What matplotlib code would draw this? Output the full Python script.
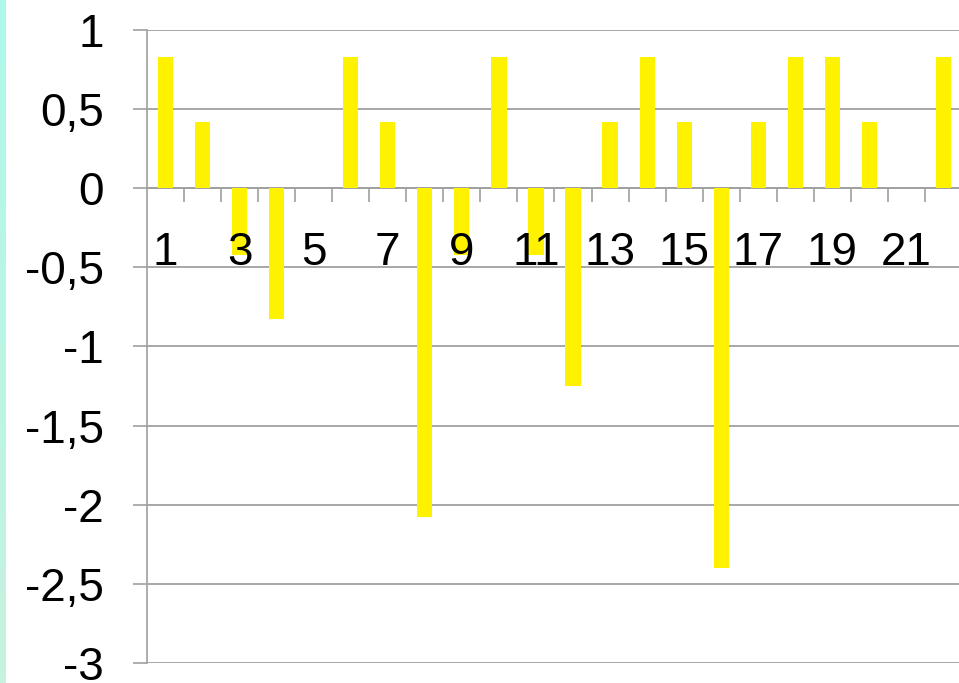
import numpy as np
import matplotlib.pyplot as plt
from matplotlib.ticker import FixedLocator, FuncFormatter

plt.rcParams['font.family'] = ['Liberation Sans', 'DejaVu Sans']

# data
categories = list(range(1, 23))
values = [0.83, 0.42, -0.42, -0.83, 0, 0.83, 0.42, -2.08, -0.42, 0.83, -0.42,
          -1.25, 0.42, 0.83, 0.42, -2.4, 0.42, 0.83, 0.83, 0.42, 0, 0.83]
x_labels = [str(c) for c in categories if c % 2 == 1]
y_ticks = [-3, -2.5, -2, -1.5, -1, -0.5, 0, 0.5, 1]

W, H = 959, 683
fig = plt.figure(figsize=(W / 100, H / 100), dpi=100)
fig.patch.set_facecolor('white')

# teal strip on the left edge
strip = fig.add_axes([0, 0, 6 / W, 1])
grad = np.linspace(0, 1, 100).reshape(-1, 1)
from matplotlib.colors import LinearSegmentedColormap
cm = LinearSegmentedColormap.from_list('s', ['#c6f2de', '#aef8ea'])
strip.imshow(grad, aspect='auto', cmap=cm, origin='lower')
strip.axis('off')

ax = fig.add_axes([147 / W, 20 / H, 815 / W, 633.3 / H])
grey = '#a0a0a0'

ax.bar(categories, values, width=0.41, color='#fff200', zorder=3)
ax.set_xlim(0.5, 22.5)
ax.set_ylim(-3, 1)

ax.set_yticks(y_ticks)
ax.yaxis.set_major_formatter(FuncFormatter(lambda v, p: ('%g' % v).replace('.', ',')))
ax.tick_params(axis='y', direction='out', length=10, width=1.2, color=grey,
               pad=21, labelsize=33)
ax.grid(axis='y', color=grey, lw=1.3, zorder=0)

# x axis sits at zero
ax.spines['bottom'].set_position(('data', 0))
for s in ['top', 'right']:
    ax.spines[s].set_visible(False)
for s in ['left', 'bottom']:
    ax.spines[s].set_color(grey)
    ax.spines[s].set_linewidth(1.2)

label_pos = [c for c in categories if c % 2 == 1]
ax.xaxis.set_major_locator(FixedLocator(label_pos))
ax.set_xticklabels(x_labels)
ax.xaxis.set_minor_locator(FixedLocator(np.arange(1.5, 22.5, 1)))
ax.tick_params(axis='x', which='major', length=0, pad=31, labelsize=33)
ax.tick_params(axis='x', which='minor', direction='out', length=10, width=1.2, color=grey)
for lbl in ax.get_xticklabels():
    lbl.set_zorder(5)
ax.set_axisbelow(False)
ax.xaxis.set_zorder(5)

fig.savefig('out.png', dpi=100)
